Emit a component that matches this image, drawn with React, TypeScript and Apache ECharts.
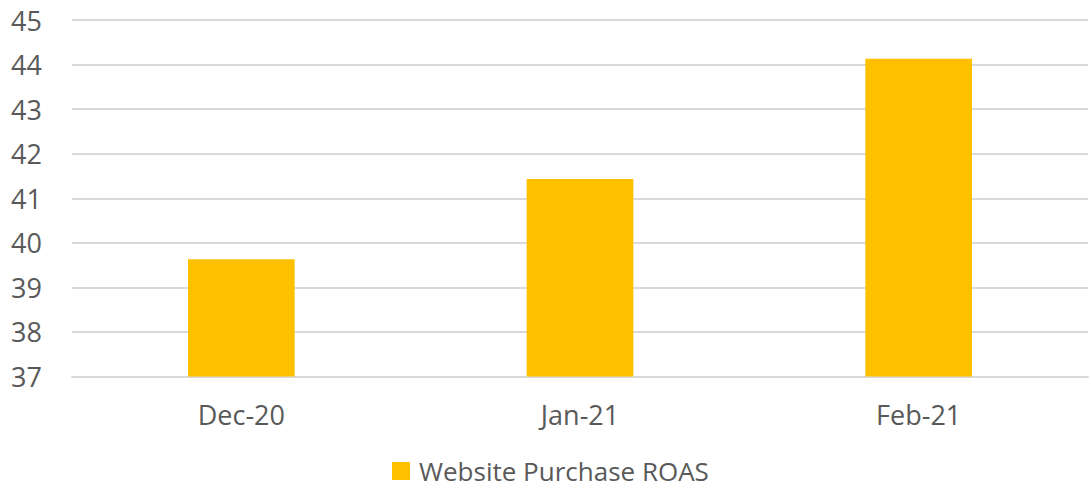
import React, { useEffect, useRef } from "react";
import * as echarts from "echarts";

const categories = ["Dec-20", "Jan-21", "Feb-21"];
const roasValues = [39.63, 41.43, 44.13];
const seriesName = "Website Purchase ROAS";
const yMin = 37;
const yMax = 45;

export default function App() {
  const ref = useRef<HTMLDivElement>(null);
  useEffect(() => {
    if (!ref.current) return;
    const chart = echarts.init(ref.current, undefined, { renderer: "svg" });
    const font = "'Open Sans', 'Liberation Sans', sans-serif";
    chart.setOption({
      animation: false,
      backgroundColor: "#ffffff",
      grid: { left: 72, right: 1, top: 20, bottom: 113.5, containLabel: false },
      legend: {
        data: [seriesName],
        left: 392,
        top: 458,
        padding: 0,
        icon: "rect",
        itemWidth: 18,
        itemHeight: 18,
        itemGap: 10,
        textStyle: {
          color: "#595959",
          fontSize: 26,
          lineHeight: 26,
          fontFamily: font,
          padding: [0, 0, 0, 4],
        },
      },
      xAxis: {
        type: "category",
        data: categories,
        axisTick: { show: false },
        axisLine: { show: true, lineStyle: { color: "#d9d9d9", width: 2 } },
        axisLabel: { color: "#595959", fontSize: 27, fontFamily: font, margin: 24 },
      },
      yAxis: {
        type: "value",
        min: yMin,
        max: yMax,
        interval: 1,
        axisLine: { show: false },
        axisTick: { show: false },
        splitLine: { lineStyle: { color: "#d9d9d9", width: 2 } },
        axisLabel: { color: "#595959", fontSize: 27, fontFamily: font, margin: 30 },
      },
      series: [
        {
          name: seriesName,
          type: "bar",
          data: roasValues,
          barWidth: "31.5%",
          itemStyle: { color: "#FFC000" },
        },
      ],
    });
    return () => chart.dispose();
  }, []);
  return (
    <div
      ref={ref}
      style={{ position: "absolute", left: 0, top: 0, width: 1089, height: 490 }}
    />
  );
}
